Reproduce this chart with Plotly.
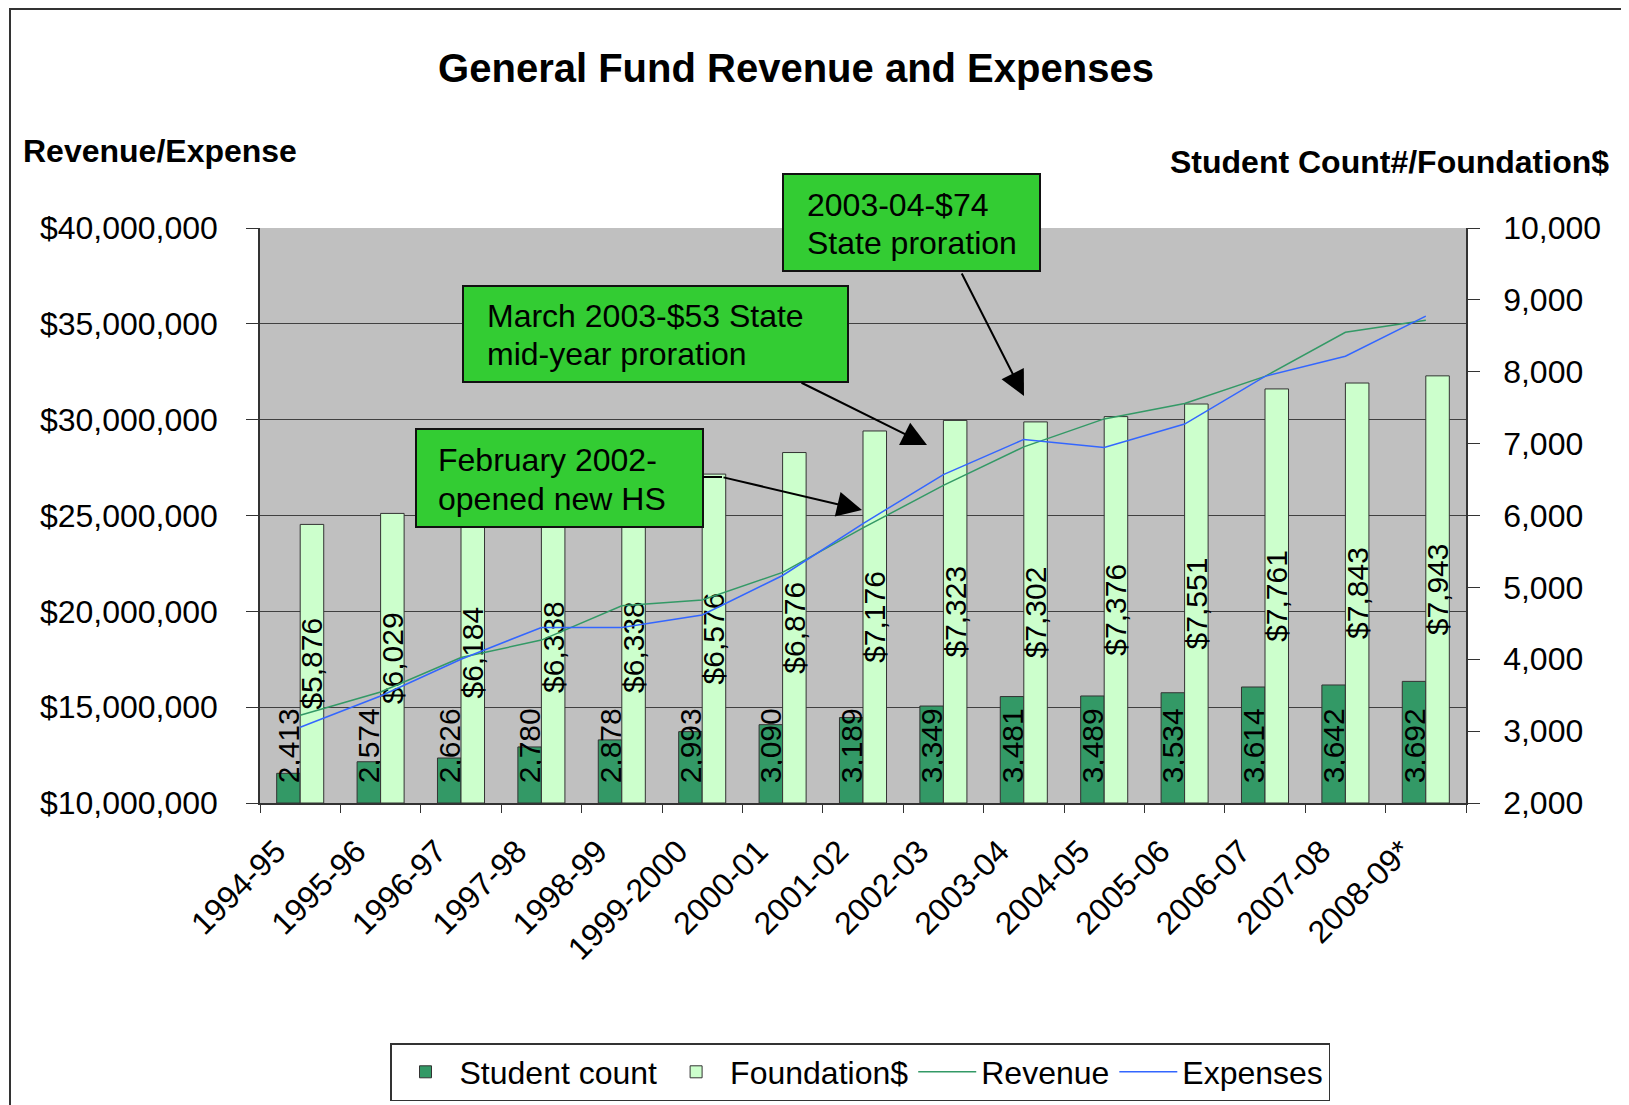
import plotly.graph_objects as go

# ---------------- data ----------------
years = ["1994-95", "1995-96", "1996-97", "1997-98", "1998-99", "1999-2000",
         "2000-01", "2001-02", "2002-03", "2003-04", "2004-05", "2005-06",
         "2006-07", "2007-08", "2008-09*"]
student_count = [2413, 2574, 2626, 2780, 2878, 2993, 3090, 3189, 3349, 3481,
                 3489, 3534, 3614, 3642, 3692]
foundation = [5876, 6029, 6184, 6338, 6338, 6576, 6876, 7176, 7323, 7302,
              7376, 7551, 7761, 7843, 7943]
revenue = [14.58e6, 15.79e6, 17.59e6, 18.50e6, 20.29e6, 20.59e6, 22.03e6,
           24.35e6, 26.57e6, 28.58e6, 30.04e6, 30.84e6, 32.26e6, 34.56e6, 35.19e6]
expenses = [13.95e6, 15.58e6, 17.50e6, 19.16e6, 19.16e6, 19.81e6, 21.87e6,
            24.58e6, 27.13e6, 28.97e6, 28.55e6, 29.77e6, 32.26e6, 33.31e6, 35.40e6]

right_min, right_max = 2000, 10000
left_min, left_max = 10e6, 40e6

# ---------------- layout geometry (screen pixels) ----------------
OFF = 8                      # page body margin
W, H = 1629 - OFF, 1105 - OFF
L, R, T, B = 260, 1466, 228, 803   # plot area on screen
FONT = "Liberation Sans, Arial, sans-serif"
NB = "\u00a0"


def px(x):
    return (x - L) / (R - L)


def py(y):
    return (B - y) / (B - T)


fig = go.Figure()

fig.add_trace(go.Bar(
    name="Student count", x=years, y=[v - right_min for v in student_count], base=right_min,
    text=[NB * 2 + f"{v:,}" for v in student_count], textposition="inside", insidetextanchor="start",
    textangle=-90, constraintext="none", textfont=dict(size=30, color="black", family=FONT),
    marker=dict(color="#339966", line=dict(color="#333333", width=1)),
    yaxis="y", cliponaxis=False,
))
fig.add_trace(go.Bar(
    name="Foundation$", x=years, y=[v - right_min for v in foundation], base=right_min,
    text=[f"${v:,}" for v in foundation], textposition="inside", insidetextanchor="middle",
    textangle=-90, constraintext="none", textfont=dict(size=30, color="black", family=FONT),
    marker=dict(color="#CCFFCC", line=dict(color="#333333", width=1)),
    yaxis="y", cliponaxis=False,
))
fig.add_trace(go.Scatter(
    name="Revenue", x=years, y=revenue, mode="lines",
    line=dict(color="#339966", width=1.5), yaxis="y2",
))
fig.add_trace(go.Scatter(
    name="Expenses", x=years, y=expenses, mode="lines",
    line=dict(color="#3366FF", width=1.5), yaxis="y2",
))

shapes = []
# outer chart border
shapes.append(dict(type="rect", xref="paper", yref="paper",
                   x0=px(10), x1=px(1660), y0=py(9), y1=py(1130),
                   line=dict(color="#333333", width=2), fillcolor="rgba(0,0,0,0)", layer="below"))
# callout boxes
boxes = [(783, 1040, 174, 271), (463, 848, 286, 382), (416, 703, 429, 527)]
for (x0, x1, y0, y1) in boxes:
    shapes.append(dict(type="rect", xref="paper", yref="paper",
                       x0=px(x0), x1=px(x1), y0=py(y0), y1=py(y1),
                       line=dict(color="#111111", width=2), fillcolor="#33CC33", layer="above"))
# small kink of the third arrow
shapes.append(dict(type="line", xref="paper", yref="paper",
                   x0=px(703), x1=px(722), y0=py(477), y1=py(477),
                   line=dict(color="black", width=2), layer="above"))

annotations = []
box_texts = [
    (805, 205, "2003-04-$74"), (805, 243, "State proration"),
    (485, 316, "March 2003-$53 State"), (485, 354, "mid-year proration"),
    (436, 460, "February 2002-"), (436, 499, "opened new HS"),
]
for (x, y, t) in box_texts:
    annotations.append(dict(text=t, x=px(x), y=py(y), xref="paper", yref="paper",
                            xanchor="left", yanchor="middle", showarrow=False,
                            font=dict(size=32, color="black", family=FONT)))
arrows = [((961, 272), (1024, 396)), ((800, 382), (927, 445)), ((722, 477), (862, 510))]
for (tail, head) in arrows:
    annotations.append(dict(text="", x=px(head[0]), y=py(head[1]), xref="paper", yref="paper",
                            ax=tail[0] - head[0], ay=tail[1] - head[1], axref="pixel", ayref="pixel",
                            showarrow=True, arrowhead=2, arrowsize=2.5, arrowwidth=2,
                            arrowcolor="black", standoff=0))
annotations.append(dict(text="<b>Revenue/Expense</b>", x=px(21), y=py(151), xref="paper", yref="paper",
                        xanchor="left", yanchor="middle", showarrow=False,
                        font=dict(size=32, color="black", family=FONT)))
annotations.append(dict(text="<b>Student Count#/Foundation$</b>", x=px(1611), y=py(162),
                        xref="paper", yref="paper", xanchor="right", yanchor="middle",
                        showarrow=False, font=dict(size=32, color="black", family=FONT)))

fig.update_layout(
    width=W, height=H,
    margin=dict(l=L - OFF, r=W - (R - OFF), t=T - OFF, b=H - (B - OFF), autoexpand=False),
    paper_bgcolor="white", plot_bgcolor="#C0C0C0",
    font=dict(family=FONT, size=32, color="black"),
    title=dict(text="<b>General Fund Revenue and Expenses</b>", x=(796 - OFF) / W,
               y=1 - (68 - OFF) / H,
               xref="container", yref="container", xanchor="center", yanchor="middle",
               font=dict(size=40, family=FONT, color="black")),
    barmode="group", bargap=0.415, bargroupgap=0,
    xaxis=dict(type="category", tickson="boundaries", ticks="outside", ticklen=8,
               tickcolor="#333333", showline=True, linecolor="#333333", linewidth=1.5,
               tickangle=-45, tickfont=dict(size=32, family=FONT), showgrid=False,
               ticklabelshift=-24, ticklabelstandoff=15),
    yaxis=dict(side="right", range=[right_min, right_max], dtick=1000, tickformat=",",
               ticks="outside", ticklen=12, tickcolor="#333333", showline=True,
               linecolor="#333333", linewidth=1.5, showgrid=False, zeroline=False,
               tickfont=dict(size=32, family=FONT), ticklabelstandoff=17),
    yaxis2=dict(overlaying="y", side="left", range=[left_min, left_max], dtick=5e6,
                tickprefix="$", tickformat=",.0f", ticks="outside", ticklen=12,
                tickcolor="#333333", showline=True, linecolor="#333333", linewidth=1.5,
                showgrid=True, gridcolor="#404040", gridwidth=1, zeroline=False,
                tickfont=dict(size=32, family=FONT), ticklabelstandoff=22),
    legend=dict(orientation="h", x=px(860), xanchor="center", y=py(1101), yanchor="bottom",
                font=dict(size=32, family=FONT), bordercolor="#333333", borderwidth=1.5,
                bgcolor="white", itemwidth=58, traceorder="normal"),
    shapes=shapes, annotations=annotations, showlegend=True,
)

fig.write_html("out.html")
